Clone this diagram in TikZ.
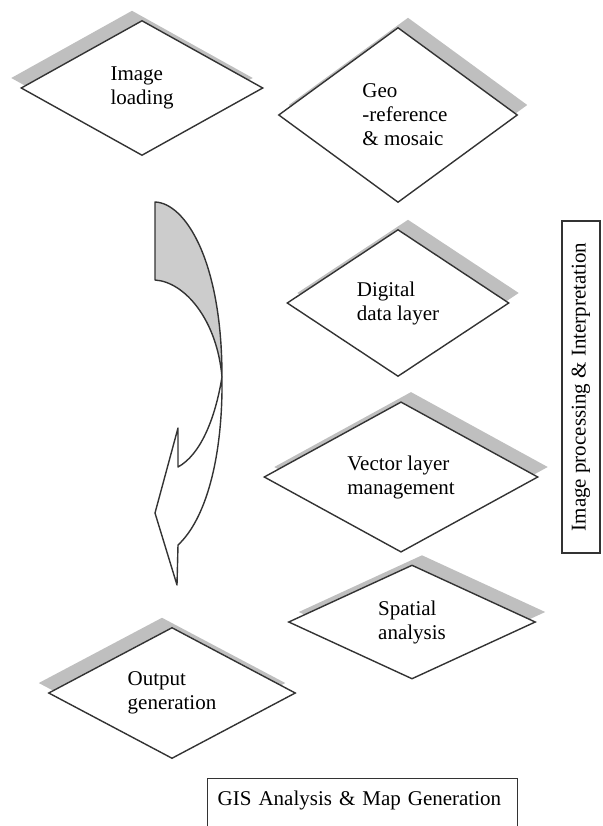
\documentclass[tikz,border=0pt]{standalone}
\usepackage{fontspec}
\setmainfont{Liberation Serif}
\usetikzlibrary{positioning,shapes.geometric,shadows}

\tikzset{
  stepdiamond/.style={diamond, draw=black!80, line width=1.4pt, fill=white,
    inner sep=0pt, align=left, font=\fontsize{21}{24}\selectfont},
  shadowleft/.style={drop shadow={shadow xshift=-10pt, shadow yshift=10pt,
    fill=black!25, opacity=1}},
  shadowright/.style={drop shadow={shadow xshift=10pt, shadow yshift=10pt,
    fill=black!25, opacity=1}},
  sidebox/.style={draw=black!80, line width=1.4pt, font=\fontsize{21}{24}\selectfont},
  curvearrow/.style={draw=black!80, line width=1.4pt, line join=round}
}

\begin{document}
\begin{tikzpicture}
[x=1pt, y=-1pt, node distance=150pt, on grid]
\useasboundingbox (0,0) rectangle (602,826);

\node [stepdiamond, shadowleft, minimum width=242pt, minimum height=135pt] (loading) at (142,88) {Image\\loading};
\node [stepdiamond, shadowright, minimum width=239pt, minimum height=175pt] (georef) at (398,115) {\hspace*{14pt}Geo\\\hspace*{14pt}-reference\\\hspace*{14pt}\& mosaic};

\node [stepdiamond, shadowright, minimum width=222pt, minimum height=147pt] (digital) [below=188pt of georef] {Digital\\data layer};
\node [stepdiamond, shadowright, minimum width=274pt, minimum height=131pt] (vector) [below=174pt of digital, xshift=3pt] {Vector layer\\management};
\node [stepdiamond, shadowright, minimum width=247pt, minimum height=114pt] (spatial) [below=145pt of vector, xshift=11pt] {Spatial\\analysis};

\node [stepdiamond, shadowleft, minimum width=247pt, minimum height=125pt] (output) at (172,693) {Output\\generation};

\node [sidebox, rotate=90, minimum width=332pt, minimum height=38pt] (imgproc) at (581,387) {Image processing \& Interpretation};

\node [sidebox, anchor=north west, text width=290pt, inner xsep=10pt, inner ysep=12pt,
  text depth=60pt, align=left] (gis) at (207,778) {GIS Analysis \& Map Generation};

% curved arrow, back part
\filldraw [curvearrow, fill=black!20] (155,202) -- (155,280)
  .. controls (185,282) and (217,320) .. (222,377)
  .. controls (222,260) and (185,203) .. (155,202) -- cycle;
% curved arrow, front part with head
\filldraw [curvearrow, fill=white] (222,377)
  .. controls (223,460) and (205,520) .. (178,545)
  -- (177,585) -- (155,513) -- (178,428) -- (178,467)
  .. controls (200,455) and (215,420) .. (222,377) -- cycle;

\end{tikzpicture}
\end{document}
